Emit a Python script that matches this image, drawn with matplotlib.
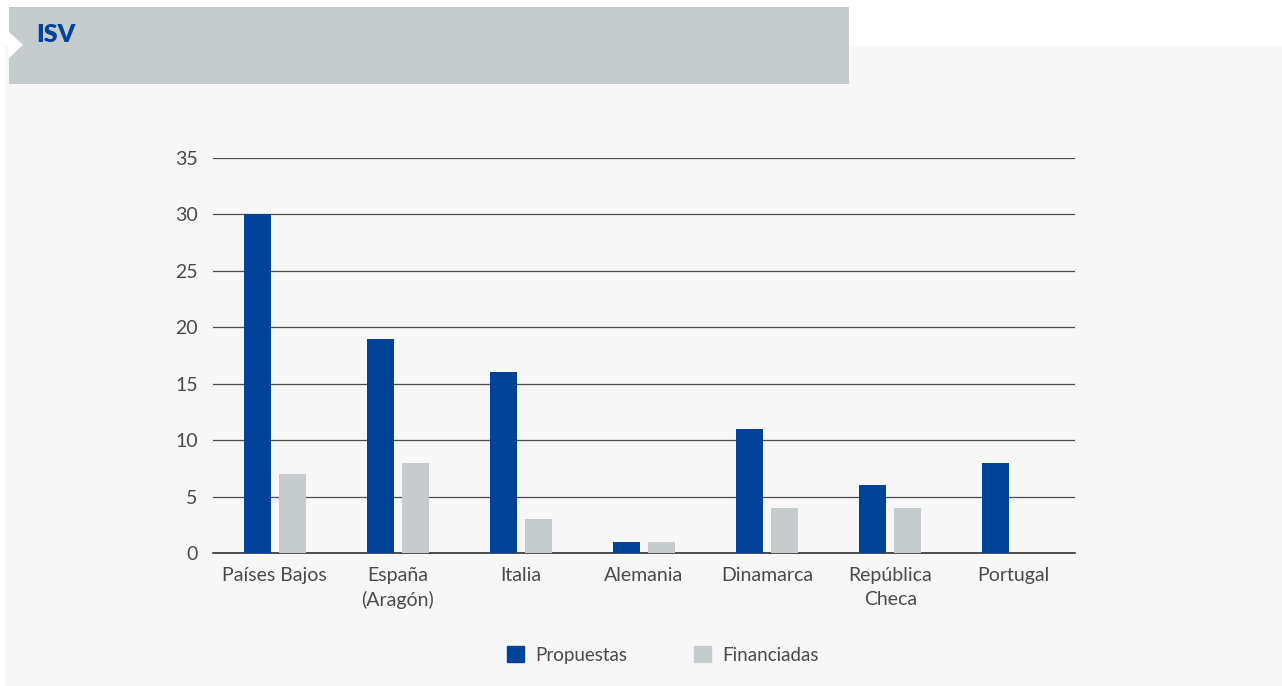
import matplotlib
matplotlib.use("Agg")
import matplotlib.pyplot as plt
import numpy as np
from matplotlib.patches import Rectangle, Polygon, Patch

# data
countries = ["Países Bajos", "España\n(Aragón)", "Italia", "Alemania",
             "Dinamarca", "República\nCheca", "Portugal"]
propuestas = [30, 19, 16, 1, 11, 6, 8]
financiadas = [7, 8, 3, 1, 4, 4, 0]
series_names = ["Propuestas", "Financiadas"]
yticks = [0, 5, 10, 15, 20, 25, 30, 35]

BLUE = "#00449a"
GRAY = "#c6cbce"
PANEL = "#f7f7f7"
TXT = "#4a4a4a"

plt.rcParams['font.family'] = ['Lato', 'DejaVu Sans']

W, H = 1282, 686
fig = plt.figure(figsize=(W / 100, H / 100), dpi=100)
fig.patch.set_facecolor("white")


def px(x, y):
    """pixel (top-left origin) -> figure fraction"""
    return x / W, 1 - y / H


def rect(x0, y0, x1, y1, color, z=0):
    fx0, fy1 = px(x0, y1)
    fig.add_artist(Rectangle((fx0, fy1), (x1 - x0) / W, (y1 - y0) / H,
                             transform=fig.transFigure, color=color, zorder=z, lw=0))


# background panel + header box
rect(5, 46, 1282, 686, PANEL, z=0)
rect(9, 7, 849, 84, GRAY, z=1)
fig.add_artist(Polygon([px(8, 31), px(23, 45), px(8, 59)], closed=True,
                       transform=fig.transFigure, color="white", lw=0, zorder=2))
fig.text(*px(36, 35), "ISV", color=BLUE, fontsize=18, fontweight="heavy",
         va="center", ha="left", zorder=3)

l, b = px(213, 553)
r, t = px(1075, 158)
ax = fig.add_axes([l, b, r - l, t - b])
ax.set_facecolor("none")

x = np.arange(len(countries))
bw = 0.22
off = 0.142
ax.bar(x - off, propuestas, bw, color=BLUE, zorder=3)
ax.bar(x + off, financiadas, bw, color=GRAY, zorder=3)

ax.set_xlim(-0.5, len(countries) - 0.5)
ax.set_ylim(0, 35)
ax.set_yticks(yticks)
ax.set_xticks(x)
ax.set_xticklabels(countries, linespacing=1.5)
ax.yaxis.grid(True, color="#4d4d4d", lw=0.9)
ax.set_axisbelow(True)
for s in ["top", "right", "left"]:
    ax.spines[s].set_visible(False)
ax.spines["bottom"].set_color("#222222")
ax.spines["bottom"].set_linewidth(1.1)
ax.tick_params(axis="both", length=0, labelsize=14, labelcolor=TXT)
ax.tick_params(axis="y", pad=11)
ax.tick_params(axis="x", pad=10)

handles = [Patch(color=BLUE), Patch(color=GRAY)]
leg = fig.legend(handles, series_names, loc="center", bbox_to_anchor=px(663, 655),
                 ncol=2, frameon=False, fontsize=13.5, handlelength=0.9, handleheight=0.9,
                 columnspacing=3.6, handletextpad=0.6)
for tx in leg.get_texts():
    tx.set_color(TXT)

fig.savefig("out.png", dpi=100, facecolor=fig.get_facecolor())
